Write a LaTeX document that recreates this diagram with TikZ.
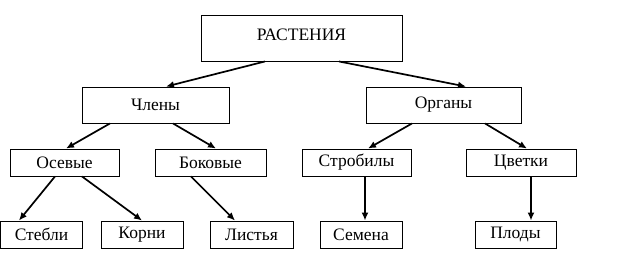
\documentclass[tikz,border=0pt]{standalone}
\usepackage{fontspec}
\setmainfont{Liberation Serif}
\usetikzlibrary{arrows.meta,positioning}

\begin{document}
\begin{tikzpicture}[
  x=1pt, y=-1pt,
  font=\fontsize{17.5}{19}\selectfont,
  >={Latex[length=8pt,width=7pt]},
  top/.style={draw, line width=0.9pt, minimum width=201pt, minimum height=46pt, inner sep=0pt},
  mid/.style={draw, line width=0.9pt, minimum height=36pt, inner sep=0pt},
  low/.style={draw, line width=0.9pt, minimum height=27pt, inner sep=0pt},
  link/.style={->, line width=1.7pt}
]
\useasboundingbox (0,0) rectangle (619,265);

\node[top] (plants) at (301.5,38) {\raisebox{6pt}{РАСТЕНИЯ}};

\node[mid, minimum width=147pt] (members) at (155.5,105) {Члены};
\node[mid, minimum width=155pt] (organs) at (443.5,105) {Органы};

\node[low, minimum width=109pt] (axial) at (64.5,162.5) {Осевые};
\node[low, minimum width=111pt] (lateral) at (210.5,162.5) {Боковые};
\node[low, minimum width=109pt] (strobili) at (356.5,162.5) {Стробилы};
\node[low, minimum width=110pt] (flowers) at (521,162.5) {Цветки};

\node[low, minimum width=82pt] (stems) at (41.5,234.5) {Стебли};
\node[low, minimum width=82pt] (roots) at (142,234.5) {Корни};
\node[low, minimum width=83pt] (leaves) at (251.5,234.5) {Листья};
\node[low, minimum width=82pt] (seeds) at (361,234.5) {Семена};
\node[low, minimum width=81pt] (fruits) at (515.5,234.5) {Плоды};

\draw[link] ([xshift=-36.5pt]plants.south) -- ([xshift=10.5pt]members.north);
\draw[link] ([xshift=37.5pt]plants.south) -- ([xshift=22.5pt]organs.north);

\draw[link] ([xshift=-45.5pt]members.south) -- ([xshift=1.5pt]axial.north);
\draw[link] ([xshift=17.5pt]members.south) -- ([xshift=5.5pt]lateral.north);
\draw[link] ([xshift=-31.5pt]organs.south) -- ([xshift=11.5pt]strobili.north);
\draw[link] ([xshift=41.5pt]organs.south) -- ([xshift=6pt]flowers.north);

\draw[link] ([xshift=-9.5pt]axial.south) -- ([xshift=-22.5pt]stems.north);
\draw[link] ([xshift=17.5pt]axial.south) -- (roots.north);
\draw[link] ([xshift=-19.5pt]lateral.south) -- ([xshift=-16.5pt]leaves.north);
\draw[link] ([xshift=8.5pt]strobili.south) -- ([xshift=4pt]seeds.north);
\draw[link] ([xshift=10pt]flowers.south) -- ([xshift=15.5pt]fruits.north);

\end{tikzpicture}
\end{document}
